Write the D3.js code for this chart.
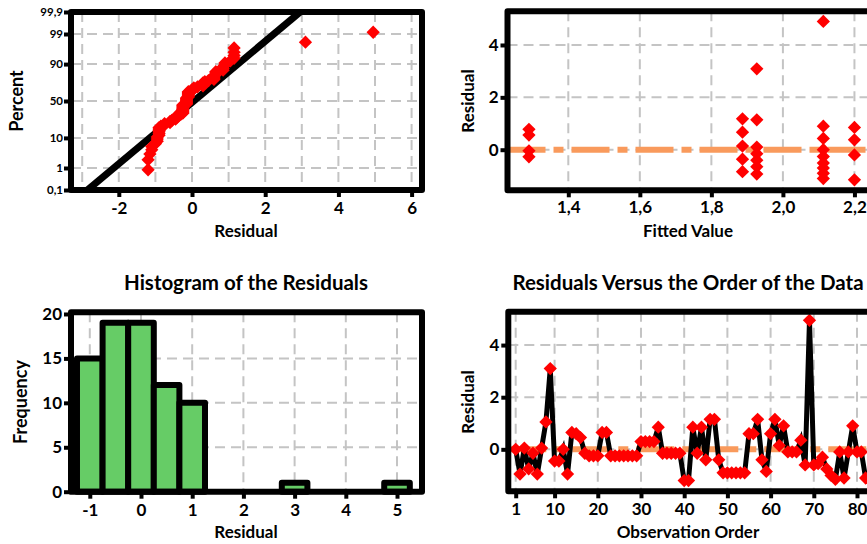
<!DOCTYPE html>
<html>
<head>
<meta charset="utf-8">
<script src="https://cdn.jsdelivr.net/npm/d3@7"></script>
<style>
body { margin: 0; background: #fff; }
svg { display: block; font-family: Lato, "Open Sans", sans-serif; font-weight: bold; }
</style>
</head>
<body>
<svg width="867" height="544"></svg>
<script>
'use strict';

// residuals in observation order
var residuals = [0.0, -0.95, 0.05, -0.75, -0.15, -0.95, 0.05, 1.05, 3.1, -0.45,
    -0.45, 0.0, -0.95, 0.65, 0.6, 0.45, -0.15, -0.25, -0.25, -0.25,
    0.65, 0.65, -0.25, -0.25, -0.25, -0.25, -0.25, -0.25, -0.25, 0.3,
    0.3, 0.3, 0.3, 0.85, -0.15, -0.15, -0.15, -0.15, -0.15, -1.2,
    -1.2, 0.85, -0.15, 0.85, -0.4, 1.15, 1.15, -0.4, -0.9, -0.9,
    -0.9, -0.9, -0.9, -0.9, 0.6, 0.6, 1.15, -0.4, -0.85, 0.6,
    1.15, 0.15, 0.9, -0.1, -0.1, -0.1, 0.35, -0.6, 4.95, -0.6,
    -0.55, -0.3, -0.75, -1.0, -1.15, -0.1, -1.1, -0.1, 0.9, -0.1,
    -0.1, -1.1];

// residuals versus fits panel
var fittedValues = [1.29, 1.29, 1.29, 1.29,
    1.887, 1.887, 1.887, 1.887, 1.887,
    1.927, 1.927, 1.927, 1.927, 1.927, 1.927, 1.927,
    2.113, 2.113, 2.113, 2.113, 2.113, 2.113, 2.113, 2.113, 2.113,
    2.2, 2.2, 2.2, 2.2];
var fittedResiduals = [0.78, 0.56, -0.04, -0.27,
    1.18, 0.67, 0.14, -0.36, -0.84,
    3.09, 1.14, 0.1, -0.15, -0.4, -0.65, -0.93,
    4.9, 0.9, 0.43, 0.0, -0.26, -0.51, -0.7, -0.9, -1.1,
    0.85, 0.38, -0.2, -1.15];

// histogram
var histMids = [-1, -0.5, 0, 0.5, 1, 1.5, 2, 2.5, 3, 3.5, 4, 4.5, 5];
var histCounts = [15, 19, 19, 12, 10, 0, 0, 0, 1, 0, 0, 0, 1];

// normal probability plot
var probTicks = [0.1, 1, 10, 50, 90, 99, 99.9];
var probLabels = ['0,1', '1', '10', '50', '90', '99', '99,9'];
var fitMean = 0.05, fitStDev = 0.94;

var fittedTicks = [1.4, 1.6, 1.8, 2.0, 2.2];
var orderTicks = [1, 10, 20, 30, 40, 50, 60, 70, 80];

var GRID = '#c4c4c4', RED = '#ff0000', ORANGE = '#f99a5c', GREEN = '#66cc66';
var TICK = 17, TITLE = 17, HEAD = 20.5;

var svg = d3.select('svg');

// inverse normal cdf (Acklam)
function probit(p) {
    var a = [-39.69683028665376, 220.9460984245205, -275.9285104469687, 138.3577518672690, -30.66479806614716, 2.506628277459239];
    var b = [-54.47609879822406, 161.5858368580409, -155.6989798598866, 66.80131188771972, -13.28068155288572];
    var c = [-0.007784894002430293, -0.3223964580411365, -2.400758277161838, -2.549732539343734, 4.374664141464968, 2.938163982698783];
    var d = [0.007784695709041462, 0.3224671290700398, 2.445134137142996, 3.754408661907416];
    var q, r;
    if (p < 0.02425) {
        q = Math.sqrt(-2 * Math.log(p));
        return (((((c[0]*q+c[1])*q+c[2])*q+c[3])*q+c[4])*q+c[5]) / ((((d[0]*q+d[1])*q+d[2])*q+d[3])*q+1);
    }
    if (p > 1 - 0.02425) {
        q = Math.sqrt(-2 * Math.log(1 - p));
        return -(((((c[0]*q+c[1])*q+c[2])*q+c[3])*q+c[4])*q+c[5]) / ((((d[0]*q+d[1])*q+d[2])*q+d[3])*q+1);
    }
    q = p - 0.5; r = q * q;
    return (((((a[0]*r+a[1])*r+a[2])*r+a[3])*r+a[4])*r+a[5])*q / (((((b[0]*r+b[1])*r+b[2])*r+b[3])*r+b[4])*r+1);
}

var intFmt = function (d) { return String(d); };
var diamond = d3.symbol().type(d3.symbolSquare).size(88);

function drawPoints(g, data, xf, yf) {
    g.selectAll('path.pt').data(data).enter().append('path')
        .attr('class', 'pt')
        .attr('d', diamond)
        .attr('fill', RED)
        .attr('transform', function (d, i) { return 'translate(' + xf(d, i) + ',' + yf(d, i) + ') rotate(45)'; });
}

function gridX(g, x, vals, y0, y1) {
    g.selectAll(null).data(vals).enter().append('line')
        .attr('x1', x).attr('x2', x).attr('y1', y0).attr('y2', y1)
        .attr('stroke', GRID).attr('stroke-width', 2).attr('stroke-dasharray', '10,6');
}
function gridY(g, y, vals, x0, x1) {
    g.selectAll(null).data(vals).enter().append('line')
        .attr('y1', y).attr('y2', y).attr('x1', x0).attr('x2', x1)
        .attr('stroke', GRID).attr('stroke-width', 2).attr('stroke-dasharray', '10,6');
}

function frame(g, x0, y0, x1, y1) {
    g.append('rect')
        .attr('x', x0).attr('y', y0).attr('width', x1 - x0).attr('height', y1 - y0)
        .attr('fill', 'none').attr('stroke', '#000').attr('stroke-width', 6)
        .attr('stroke-linejoin', 'round');
}

function styleAxis(ax, size) {
    ax.select('.domain').remove();
    ax.selectAll('.tick line').attr('stroke', '#000').attr('stroke-width', 4);
    ax.selectAll('.tick text').attr('fill', '#000').style('font-size', size + 'px')
        .style('font-family', 'Lato, "Open Sans", sans-serif').style('font-weight', 'bold');
}

function label(text, x, y, size, rotate) {
    var t = svg.append('text').text(text)
        .attr('text-anchor', 'middle')
        .style('font-size', size + 'px').attr('fill', '#000');
    if (rotate) t.attr('transform', 'translate(' + x + ',' + y + ') rotate(-90)');
    else t.attr('x', x).attr('y', y);
    return t;
}

function clip(id, x0, y0, x1, y1) {
    svg.append('clipPath').attr('id', id).append('rect')
        .attr('x', x0).attr('y', y0).attr('width', x1 - x0).attr('height', y1 - y0);
    return 'url(#' + id + ')';
}

// ---------- panel 1 : normal probability plot ----------
var p1 = {l: 71, t: 12, r: 422, b: 190};
var x1 = d3.scaleLinear().domain([-3.306, 6.284]).range([p1.l, p1.r]);
var y1 = d3.scaleLinear().domain([probit(0.001), probit(0.999)]).range([p1.b, p1.t]);
var g1 = svg.append('g');
gridX(g1, x1, d3.range(-3, 7), p1.t, p1.b);
gridY(g1, function (d) { return y1(probit(d / 100)); }, [1, 10, 50, 90, 99], p1.l, p1.r);

var zEnds = [probit(0.001), probit(0.999)];
g1.append('line')
    .attr('clip-path', clip('c1', p1.l, p1.t, p1.r, p1.b))
    .attr('x1', x1(fitMean + fitStDev * zEnds[0])).attr('y1', y1(zEnds[0]))
    .attr('x2', x1(fitMean + fitStDev * zEnds[1])).attr('y2', y1(zEnds[1]))
    .attr('stroke', '#000').attr('stroke-width', 7);

var sorted = residuals.slice().sort(d3.ascending);
var n = sorted.length;
drawPoints(g1, sorted,
    function (d) { return x1(d); },
    function (d, i) { return y1(probit((i + 1 - 0.3) / (n + 0.4))); });
frame(g1, p1.l, p1.t, p1.r, p1.b);

var ax1 = g1.append('g').attr('transform', 'translate(0,' + p1.b + ')')
    .call(d3.axisBottom(x1).tickValues([-2, 0, 2, 4, 6]).tickFormat(intFmt).tickSize(7).tickPadding(5));
styleAxis(ax1, TICK);
var ay1 = g1.append('g').attr('transform', 'translate(' + p1.l + ',0)')
    .call(d3.axisLeft(y1).tickValues(probTicks.map(function (p) { return probit(p / 100); }))
        .tickFormat(function (d, i) { return probLabels[i]; }).tickSize(7).tickPadding(1));
styleAxis(ay1, 11.5);
label('Residual', 246, 237, TITLE);
label('Percent', 23, 101, 18, true);

// ---------- panel 2 : residuals versus fits ----------
var p2 = {l: 507.5, t: 11.2, r: 870, b: 190.3};
var x2 = d3.scaleLinear().domain([1.23, 2.2435]).range([p2.l, p2.r]);
var y2 = d3.scaleLinear().domain([-1.55, 5.29]).range([p2.b, p2.t]);
var g2 = svg.append('g');
gridX(g2, x2, fittedTicks, p2.t, p2.b);
gridY(g2, y2, [0, 2, 4], p2.l, p2.r);
g2.append('line')
    .attr('x1', p2.l).attr('x2', p2.r).attr('y1', y2(0)).attr('y2', y2(0))
    .attr('stroke', ORANGE).attr('stroke-width', 6).attr('stroke-dasharray', '38,8,10,8');
drawPoints(g2, fittedValues,
    function (d) { return x2(d); },
    function (d, i) { return y2(fittedResiduals[i]); });
frame(g2, p2.l, p2.t, p2.r, p2.b);
var ax2 = g2.append('g').attr('transform', 'translate(0,' + p2.b + ')')
    .call(d3.axisBottom(x2).tickValues(fittedTicks).tickFormat(function (d) { return d3.format('.1f')(d).replace('.', ','); }).tickSize(7).tickPadding(4));
styleAxis(ax2, TICK);
var ay2 = g2.append('g').attr('transform', 'translate(' + p2.l + ',0)')
    .call(d3.axisLeft(y2).tickValues([0, 2, 4]).tickFormat(intFmt).tickSize(7).tickPadding(2));
styleAxis(ay2, TICK);
label('Fitted Value', 688, 237, TITLE);
label('Residual', 474, 101, TITLE, true);

// ---------- panel 3 : histogram ----------
var p3 = {l: 71, t: 312.2, r: 422, b: 491.7};
var x3 = d3.scaleLinear().domain([-1.367, 5.488]).range([p3.l, p3.r]);
var y3 = d3.scaleLinear().domain([0, 20.2]).range([p3.b, p3.t]);
var g3 = svg.append('g');
gridX(g3, x3, d3.range(-1, 6), p3.t, p3.b);
gridY(g3, y3, [5, 10, 15], p3.l, p3.r);
var bars = histMids.map(function (m, i) { return {mid: m, count: histCounts[i]}; })
    .filter(function (d) { return d.count > 0; });
g3.selectAll('rect.bar').data(bars).enter().append('rect')
    .attr('class', 'bar')
    .attr('x', function (d) { return x3(d.mid - 0.25); })
    .attr('width', function (d) { return x3(d.mid + 0.25) - x3(d.mid - 0.25); })
    .attr('y', function (d) { return y3(d.count); })
    .attr('height', function (d) { return y3(0) - y3(d.count); })
    .attr('fill', GREEN).attr('stroke', '#000').attr('stroke-width', 6)
    .attr('stroke-linejoin', 'round');
frame(g3, p3.l, p3.t, p3.r, p3.b);
var ax3 = g3.append('g').attr('transform', 'translate(0,' + p3.b + ')')
    .call(d3.axisBottom(x3).tickValues(d3.range(-1, 6)).tickFormat(intFmt).tickSize(7).tickPadding(5));
styleAxis(ax3, TICK);
var ay3 = g3.append('g').attr('transform', 'translate(' + p3.l + ',0)')
    .call(d3.axisLeft(y3).tickValues([0, 5, 10, 15, 20]).tickFormat(intFmt).tickSize(7).tickPadding(2));
styleAxis(ay3, TICK);
label('Residual', 246, 538, TITLE);
label('Frequency', 27, 402, 18, true);
label('Histogram of the Residuals', 246, 290, HEAD);

// ---------- panel 4 : residuals versus order ----------
var p4 = {l: 508.3, t: 311.7, r: 870, b: 491.3};
var x4 = d3.scaleLinear().domain([-0.713, 83.01]).range([p4.l, p4.r]);
var y4 = d3.scaleLinear().domain([-1.61, 5.28]).range([p4.b, p4.t]);
var g4 = svg.append('g');
gridX(g4, x4, orderTicks, p4.t, p4.b);
gridY(g4, y4, [0, 2, 4], p4.l, p4.r);
g4.append('line')
    .attr('x1', p4.l).attr('x2', p4.r).attr('y1', y4(0)).attr('y2', y4(0))
    .attr('stroke', ORANGE).attr('stroke-width', 6).attr('stroke-dasharray', '38,8,10,8');
g4.append('path').datum(residuals)
    .attr('clip-path', clip('c4', p4.l, p4.t, p4.r, p4.b))
    .attr('d', d3.line().x(function (d, i) { return x4(i + 1); }).y(function (d) { return y4(d); }))
    .attr('fill', 'none').attr('stroke', '#000').attr('stroke-width', 5)
    .attr('stroke-linejoin', 'miter').attr('stroke-miterlimit', 4);
drawPoints(g4, residuals,
    function (d, i) { return x4(i + 1); },
    function (d) { return y4(d); });
frame(g4, p4.l, p4.t, p4.r, p4.b);
var ax4 = g4.append('g').attr('transform', 'translate(0,' + p4.b + ')')
    .call(d3.axisBottom(x4).tickValues(orderTicks).tickFormat(intFmt).tickSize(7).tickPadding(5));
styleAxis(ax4, TICK);
var ay4 = g4.append('g').attr('transform', 'translate(' + p4.l + ',0)')
    .call(d3.axisLeft(y4).tickValues([0, 2, 4]).tickFormat(intFmt).tickSize(7).tickPadding(2));
styleAxis(ay4, TICK);
label('Observation Order', 688, 538, TITLE);
label('Residual', 474, 402, TITLE, true);
label('Residuals Versus the Order of the Data', 688, 290, HEAD);
</script>
</body>
</html>
